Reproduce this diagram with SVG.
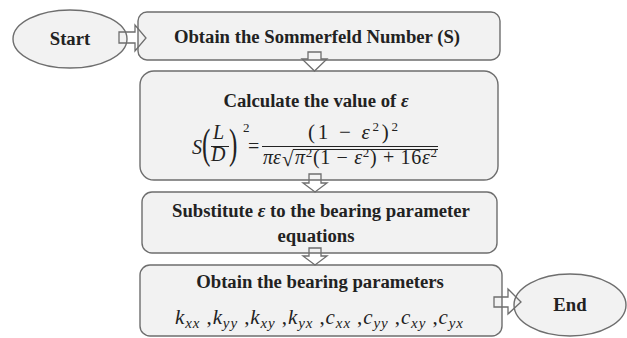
<svg xmlns="http://www.w3.org/2000/svg" width="627" height="338" viewBox="0 0 627 338">
<style>
.node{fill:#f2f2f2;stroke:#6e6e6e;stroke-width:1.4}
.arr{fill:none;stroke:#6e6e6e;stroke-width:1.3;stroke-linejoin:miter}
text{font-family:'Liberation Serif',serif;fill:#222}
.t{font-weight:bold;font-size:18.7px;text-anchor:middle}
.m{font-size:20px}
.s{font-size:13px}
.sb{font-size:15px;font-style:italic}
.i{font-style:italic}
.ln{stroke:#222;stroke-width:1}
</style>
<rect width="627" height="338" fill="#fff"/>
<g id="start">
<ellipse class="node" cx="70" cy="39" rx="57" ry="29"/>
<text class="t" x="70" y="45">Start</text>
</g>
<g id="box1">
<rect class="node" x="138" y="12" width="362" height="48" rx="9"/>
<text class="t" x="317" y="43">Obtain the Sommerfeld Number (S)</text>
</g>
<g id="box2">
<rect class="node" x="140" y="71" width="358" height="109" rx="14"/>
<text class="t" x="316" y="107">Calculate the value of <tspan class="i">ε</tspan></text>
<text class="m i" x="192" y="154">S</text>
<text class="m" x="0" y="0" style="font-size:42px" transform="translate(202 158) scale(0.6 1)">(</text>
<text class="m i" x="213" y="139">L</text>
<line class="ln" x1="211" y1="146.5" x2="229" y2="146.5"/>
<text class="m i" x="211" y="161">D</text>
<text class="m" x="0" y="0" style="font-size:42px" transform="translate(229 158) scale(0.6 1)">)</text>
<text class="s" x="243" y="132">2</text>
<text class="m" x="248" y="153">=</text>
<text class="m" x="308" y="139" style="font-size:21px" textLength="90" lengthAdjust="spacing">(1 − <tspan class="i">ε</tspan><tspan class="s" dy="-8">2</tspan><tspan dy="8">)</tspan><tspan class="s" dy="-8">2</tspan></text>
<line class="ln" x1="262" y1="146.5" x2="438" y2="146.5"/>
<text class="m i" x="263" y="164">πε</text>
<text class="m" x="282" y="166" style="font-size:21px">√</text>
<line class="ln" x1="293" y1="149.5" x2="438" y2="149.5"/>
<text class="m" x="295" y="164" textLength="142" lengthAdjust="spacing"><tspan class="i">π</tspan><tspan class="s" dy="-7">2</tspan><tspan dy="7">(1 − </tspan><tspan class="i">ε</tspan><tspan class="s" dy="-7">2</tspan><tspan dy="7">) + 16</tspan><tspan class="i">ε</tspan><tspan class="s" dy="-7">2</tspan></text>
</g>
<g id="box3">
<rect class="node" x="142" y="192" width="355" height="61" rx="10"/>
<text class="t" x="321" y="217">Substitute <tspan class="i">ε</tspan> to the bearing parameter</text>
<text class="t" x="316" y="242">equations</text>
</g>
<g id="box4">
<rect class="node" x="140" y="265" width="362" height="71" rx="10"/>
<text class="t" x="320" y="288">Obtain the bearing parameters</text>
<text class="m" x="175" y="324" style="font-size:21px" textLength="288" lengthAdjust="spacing"><tspan class="i">k</tspan><tspan class="sb" dy="4">xx</tspan><tspan dy="-4"> ,</tspan><tspan class="i">k</tspan><tspan class="sb" dy="4">yy</tspan><tspan dy="-4"> ,</tspan><tspan class="i">k</tspan><tspan class="sb" dy="4">xy</tspan><tspan dy="-4"> ,</tspan><tspan class="i">k</tspan><tspan class="sb" dy="4">yx</tspan><tspan dy="-4"> ,</tspan><tspan class="i">c</tspan><tspan class="sb" dy="4">xx</tspan><tspan dy="-4"> ,</tspan><tspan class="i">c</tspan><tspan class="sb" dy="4">yy</tspan><tspan dy="-4"> ,</tspan><tspan class="i">c</tspan><tspan class="sb" dy="4">xy</tspan><tspan dy="-4"> ,</tspan><tspan class="i">c</tspan><tspan class="sb" dy="4">yx</tspan></text>
</g>
<g id="end">
<ellipse class="node" cx="570" cy="305" rx="56" ry="31"/>
<text class="t" x="570" y="311">End</text>
</g>
<g id="connectors">
<polygon class="arr" points="119,32 135,32 135,25 146,38 135,51 135,43 119,43"/>
<polygon class="arr" points="308,52 321,52 321,59 327,59 314.5,71 302,59 308,59"/>
<polygon class="arr" points="309,174 321,174 321,183 327,183 315,192 303,183 309,183"/>
<polygon class="arr" points="309,248 321,248 321,256 327,256 315,265 303,256 309,256"/>
<polygon class="arr" points="494,297 508,297 508,289 521,302 508,314 508,307 494,307"/>
</g>
</svg>
